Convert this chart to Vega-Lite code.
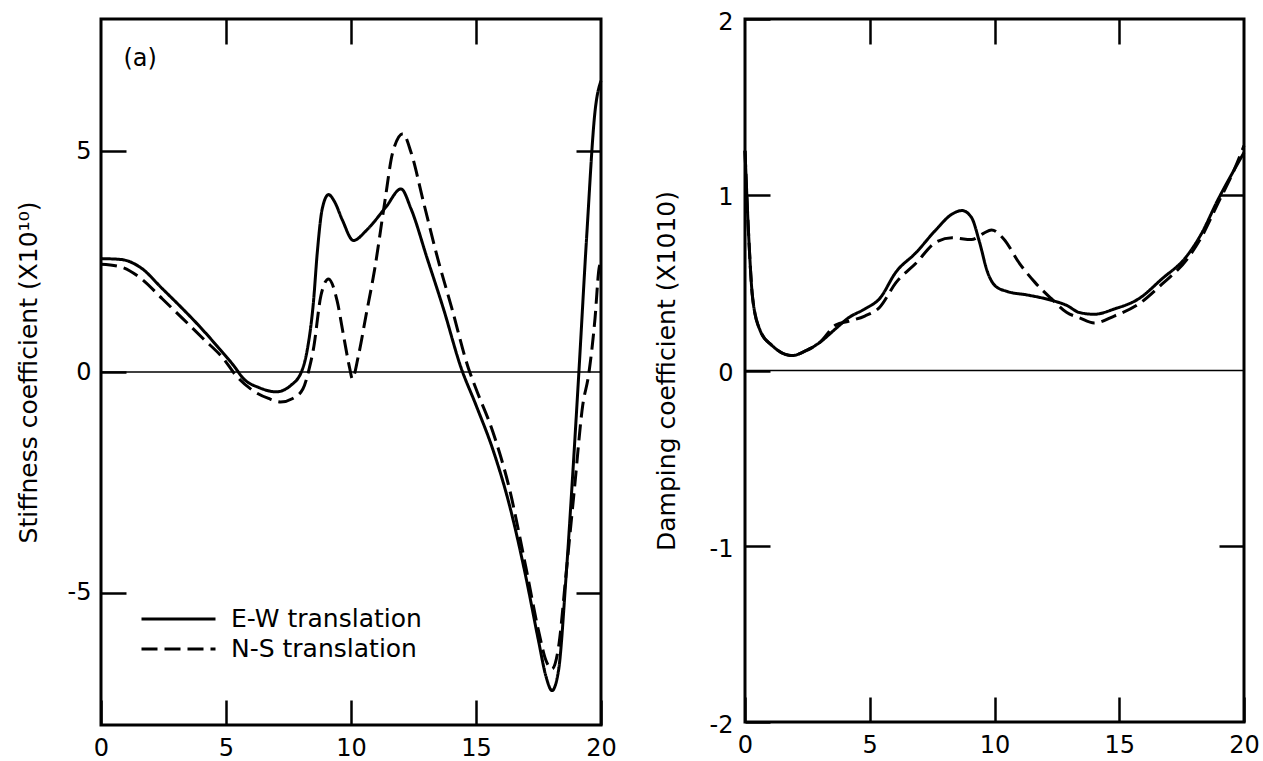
{
  "$schema": "https://vega.github.io/schema/vega-lite/v6.json",
  "padding": {"left": 14, "top": 8, "right": 5, "bottom": 0},
  "background": "white",
  "bounds": "flush",
  "spacing": 144,
  "config": {
    "view": {"stroke": "black", "strokeWidth": 3},
    "font": "DejaVu Sans",
    "axis": {
      "grid": false, "domain": false, "tickColor": "black", "tickWidth": 2.5, "tickSize": -25,
      "labelColor": "black", "labelFont": "DejaVu Sans", "labelFontSize": 24,
      "titleFont": "DejaVu Sans", "titleFontSize": 25, "titleFontWeight": "normal", "titleColor": "black",
      "labelFlush": false
    }
  },
  "resolve": {"scale": {"strokeDash": "independent"}, "legend": {"strokeDash": "independent"}},
  "datasets": {
    "stiff": [
      {"x": 0, "y": 2.57, "s": "E-W translation"},
      {"x": 0.8, "y": 2.55, "s": "E-W translation"},
      {"x": 1.6, "y": 2.36, "s": "E-W translation"},
      {"x": 2.45, "y": 1.89, "s": "E-W translation"},
      {"x": 3.27, "y": 1.43, "s": "E-W translation"},
      {"x": 3.9, "y": 1.06, "s": "E-W translation"},
      {"x": 4.7, "y": 0.55, "s": "E-W translation"},
      {"x": 5.3, "y": 0.15, "s": "E-W translation"},
      {"x": 5.7, "y": -0.15, "s": "E-W translation"},
      {"x": 6.35, "y": -0.36, "s": "E-W translation"},
      {"x": 7.0, "y": -0.45, "s": "E-W translation"},
      {"x": 7.6, "y": -0.3, "s": "E-W translation"},
      {"x": 8.05, "y": 0.05, "s": "E-W translation"},
      {"x": 8.25, "y": 0.5, "s": "E-W translation"},
      {"x": 8.5, "y": 1.6, "s": "E-W translation"},
      {"x": 8.65, "y": 2.7, "s": "E-W translation"},
      {"x": 8.85, "y": 3.7, "s": "E-W translation"},
      {"x": 9.1, "y": 4.02, "s": "E-W translation"},
      {"x": 9.35, "y": 3.85, "s": "E-W translation"},
      {"x": 9.65, "y": 3.45, "s": "E-W translation"},
      {"x": 10.1, "y": 2.98, "s": "E-W translation"},
      {"x": 10.6, "y": 3.2, "s": "E-W translation"},
      {"x": 11.4, "y": 3.74, "s": "E-W translation"},
      {"x": 12.0, "y": 4.15, "s": "E-W translation"},
      {"x": 12.4, "y": 3.7, "s": "E-W translation"},
      {"x": 13.05, "y": 2.57, "s": "E-W translation"},
      {"x": 13.7, "y": 1.43, "s": "E-W translation"},
      {"x": 14.4, "y": 0.1, "s": "E-W translation"},
      {"x": 15.0, "y": -0.75, "s": "E-W translation"},
      {"x": 15.7, "y": -1.8, "s": "E-W translation"},
      {"x": 16.33, "y": -3.0, "s": "E-W translation"},
      {"x": 17.0, "y": -4.66, "s": "E-W translation"},
      {"x": 17.5, "y": -6.09, "s": "E-W translation"},
      {"x": 17.8, "y": -6.9, "s": "E-W translation"},
      {"x": 18.04, "y": -7.22, "s": "E-W translation"},
      {"x": 18.3, "y": -6.77, "s": "E-W translation"},
      {"x": 18.6, "y": -4.66, "s": "E-W translation"},
      {"x": 18.86, "y": -2.4, "s": "E-W translation"},
      {"x": 19.1, "y": -0.15, "s": "E-W translation"},
      {"x": 19.43, "y": 3.1, "s": "E-W translation"},
      {"x": 19.76, "y": 5.9, "s": "E-W translation"},
      {"x": 20, "y": 6.6, "s": "E-W translation"},
      {"x": 0, "y": 2.44, "s": "N-S translation"},
      {"x": 0.8, "y": 2.38, "s": "N-S translation"},
      {"x": 1.6, "y": 2.12, "s": "N-S translation"},
      {"x": 2.45, "y": 1.66, "s": "N-S translation"},
      {"x": 3.27, "y": 1.21, "s": "N-S translation"},
      {"x": 4.08, "y": 0.76, "s": "N-S translation"},
      {"x": 4.9, "y": 0.3, "s": "N-S translation"},
      {"x": 5.4, "y": -0.08, "s": "N-S translation"},
      {"x": 6.05, "y": -0.41, "s": "N-S translation"},
      {"x": 6.7, "y": -0.6, "s": "N-S translation"},
      {"x": 7.18, "y": -0.68, "s": "N-S translation"},
      {"x": 7.67, "y": -0.6, "s": "N-S translation"},
      {"x": 8.08, "y": -0.38, "s": "N-S translation"},
      {"x": 8.33, "y": 0.08, "s": "N-S translation"},
      {"x": 8.5, "y": 0.53, "s": "N-S translation"},
      {"x": 8.8, "y": 1.74, "s": "N-S translation"},
      {"x": 9.1, "y": 2.11, "s": "N-S translation"},
      {"x": 9.45, "y": 1.6, "s": "N-S translation"},
      {"x": 9.7, "y": 0.83, "s": "N-S translation"},
      {"x": 9.95, "y": 0.08, "s": "N-S translation"},
      {"x": 10.05, "y": -0.15, "s": "N-S translation"},
      {"x": 10.3, "y": 0.38, "s": "N-S translation"},
      {"x": 10.6, "y": 1.28, "s": "N-S translation"},
      {"x": 10.95, "y": 2.34, "s": "N-S translation"},
      {"x": 11.35, "y": 3.85, "s": "N-S translation"},
      {"x": 11.67, "y": 4.98, "s": "N-S translation"},
      {"x": 12.08, "y": 5.4, "s": "N-S translation"},
      {"x": 12.4, "y": 4.98, "s": "N-S translation"},
      {"x": 12.9, "y": 3.85, "s": "N-S translation"},
      {"x": 13.47, "y": 2.57, "s": "N-S translation"},
      {"x": 14.04, "y": 1.43, "s": "N-S translation"},
      {"x": 14.7, "y": 0.08, "s": "N-S translation"},
      {"x": 15.0, "y": -0.38, "s": "N-S translation"},
      {"x": 15.67, "y": -1.35, "s": "N-S translation"},
      {"x": 16.33, "y": -2.63, "s": "N-S translation"},
      {"x": 17.0, "y": -4.44, "s": "N-S translation"},
      {"x": 17.5, "y": -5.86, "s": "N-S translation"},
      {"x": 17.8, "y": -6.54, "s": "N-S translation"},
      {"x": 18.04, "y": -6.73, "s": "N-S translation"},
      {"x": 18.3, "y": -6.24, "s": "N-S translation"},
      {"x": 18.6, "y": -4.59, "s": "N-S translation"},
      {"x": 18.94, "y": -2.63, "s": "N-S translation"},
      {"x": 19.27, "y": -0.75, "s": "N-S translation"},
      {"x": 19.5, "y": -0.08, "s": "N-S translation"},
      {"x": 19.76, "y": 1.21, "s": "N-S translation"},
      {"x": 19.92, "y": 2.34, "s": "N-S translation"},
      {"x": 20, "y": 2.5, "s": "N-S translation"}
    ],
    "damp": [
      {"x": 0, "y": 1.25, "s": "E-W translation"},
      {"x": 0.15, "y": 0.76, "s": "E-W translation"},
      {"x": 0.3, "y": 0.42, "s": "E-W translation"},
      {"x": 0.6, "y": 0.23, "s": "E-W translation"},
      {"x": 1.1, "y": 0.14, "s": "E-W translation"},
      {"x": 1.9, "y": 0.085, "s": "E-W translation"},
      {"x": 2.4, "y": 0.11, "s": "E-W translation"},
      {"x": 3.0, "y": 0.16, "s": "E-W translation"},
      {"x": 3.65, "y": 0.24, "s": "E-W translation"},
      {"x": 4.15, "y": 0.3, "s": "E-W translation"},
      {"x": 4.8, "y": 0.35, "s": "E-W translation"},
      {"x": 5.4, "y": 0.41, "s": "E-W translation"},
      {"x": 6.05, "y": 0.56, "s": "E-W translation"},
      {"x": 6.85, "y": 0.67, "s": "E-W translation"},
      {"x": 7.65, "y": 0.8, "s": "E-W translation"},
      {"x": 8.3, "y": 0.89, "s": "E-W translation"},
      {"x": 8.7, "y": 0.91, "s": "E-W translation"},
      {"x": 9.08, "y": 0.87, "s": "E-W translation"},
      {"x": 9.4, "y": 0.73, "s": "E-W translation"},
      {"x": 9.72, "y": 0.56, "s": "E-W translation"},
      {"x": 10.04, "y": 0.48, "s": "E-W translation"},
      {"x": 10.5, "y": 0.45, "s": "E-W translation"},
      {"x": 11.3, "y": 0.43, "s": "E-W translation"},
      {"x": 12.27, "y": 0.4, "s": "E-W translation"},
      {"x": 12.9, "y": 0.37, "s": "E-W translation"},
      {"x": 13.4, "y": 0.33, "s": "E-W translation"},
      {"x": 14.0, "y": 0.32, "s": "E-W translation"},
      {"x": 14.8, "y": 0.35, "s": "E-W translation"},
      {"x": 15.8, "y": 0.41, "s": "E-W translation"},
      {"x": 16.7, "y": 0.52, "s": "E-W translation"},
      {"x": 17.7, "y": 0.65, "s": "E-W translation"},
      {"x": 18.3, "y": 0.78, "s": "E-W translation"},
      {"x": 18.95, "y": 0.97, "s": "E-W translation"},
      {"x": 19.6, "y": 1.14, "s": "E-W translation"},
      {"x": 20, "y": 1.24, "s": "E-W translation"},
      {"x": 0, "y": 1.25, "s": "N-S translation"},
      {"x": 0.15, "y": 0.76, "s": "N-S translation"},
      {"x": 0.3, "y": 0.42, "s": "N-S translation"},
      {"x": 0.6, "y": 0.23, "s": "N-S translation"},
      {"x": 1.1, "y": 0.14, "s": "N-S translation"},
      {"x": 1.9, "y": 0.085, "s": "N-S translation"},
      {"x": 2.4, "y": 0.11, "s": "N-S translation"},
      {"x": 3.0, "y": 0.16, "s": "N-S translation"},
      {"x": 3.65, "y": 0.26, "s": "N-S translation"},
      {"x": 4.15, "y": 0.28, "s": "N-S translation"},
      {"x": 4.8, "y": 0.31, "s": "N-S translation"},
      {"x": 5.4, "y": 0.36, "s": "N-S translation"},
      {"x": 6.05, "y": 0.5, "s": "N-S translation"},
      {"x": 6.85, "y": 0.61, "s": "N-S translation"},
      {"x": 7.65, "y": 0.73, "s": "N-S translation"},
      {"x": 8.3, "y": 0.755, "s": "N-S translation"},
      {"x": 9.08, "y": 0.745, "s": "N-S translation"},
      {"x": 9.56, "y": 0.78, "s": "N-S translation"},
      {"x": 9.88, "y": 0.8, "s": "N-S translation"},
      {"x": 10.36, "y": 0.75, "s": "N-S translation"},
      {"x": 11.0, "y": 0.61, "s": "N-S translation"},
      {"x": 11.63, "y": 0.5, "s": "N-S translation"},
      {"x": 12.27, "y": 0.41, "s": "N-S translation"},
      {"x": 12.9, "y": 0.33, "s": "N-S translation"},
      {"x": 13.4, "y": 0.3, "s": "N-S translation"},
      {"x": 14.0, "y": 0.27, "s": "N-S translation"},
      {"x": 14.8, "y": 0.31, "s": "N-S translation"},
      {"x": 15.8, "y": 0.38, "s": "N-S translation"},
      {"x": 16.7, "y": 0.49, "s": "N-S translation"},
      {"x": 17.7, "y": 0.63, "s": "N-S translation"},
      {"x": 18.3, "y": 0.76, "s": "N-S translation"},
      {"x": 18.95, "y": 0.95, "s": "N-S translation"},
      {"x": 19.6, "y": 1.14, "s": "N-S translation"},
      {"x": 20, "y": 1.28, "s": "N-S translation"}
    ],
    "zero": [{"x1": 0, "x2": 20, "y": 0}],
    "tag": [{"x": 0.9, "y": 7.1, "t": "(a)"}]
  },
  "hconcat": [
    {
      "width": 500,
      "height": 706,
      "resolve": {"axis": {"x": "independent", "y": "independent"}},
      "layer": [
        {
          "data": {"name": "stiff"},
          "mark": {"type": "line", "interpolate": "monotone", "color": "black", "strokeWidth": 3},
          "encoding": {
            "x": {"field": "x", "type": "quantitative", "scale": {"domain": [0, 20], "nice": false, "zero": false},
                  "axis": {"orient": "bottom", "values": [0, 5, 10, 15, 20], "title": null, "labelPadding": 36}},
            "y": {"field": "y", "type": "quantitative", "scale": {"domain": [-8, 8], "nice": false},
                  "axis": {"orient": "left", "values": [-5, 0, 5], "title": "Stiffness coefficient (X10¹⁰)", "titlePadding": 26, "labelPadding": 35,
                           "labelExpr": "replace(datum.label, '−', '-')"}},
            "strokeDash": {"field": "s", "type": "nominal",
                           "scale": {"domain": ["E-W translation", "N-S translation"], "range": [[1, 0], [16, 7]]},
                           "legend": {"orient": "none", "legendX": 39, "legendY": 586, "title": null, "symbolType": "stroke",
                                      "symbolSize": 5476, "symbolStrokeWidth": 3, "symbolStrokeColor": "black",
                                      "labelFontSize": 25, "labelFont": "DejaVu Sans", "labelColor": "black", "labelLimit": 500,
                                      "labelOffset": 14, "clipHeight": 28, "rowPadding": 2, "padding": 0}}
          }
        },
        {
          "data": {"name": "zero"},
          "mark": {"type": "rule", "color": "black", "strokeWidth": 1.5},
          "encoding": {
            "x": {"field": "x1", "type": "quantitative", "axis": {"orient": "top", "values": [5, 10, 15], "labels": false, "title": null}},
            "x2": {"field": "x2"},
            "y": {"field": "y", "type": "quantitative", "axis": {"orient": "right", "values": [-5, 5], "labels": false, "title": null}}
          }
        },
        {
          "data": {"name": "tag"},
          "mark": {"type": "text", "align": "left", "baseline": "middle", "fontSize": 24, "font": "DejaVu Sans", "color": "black"},
          "encoding": {
            "x": {"field": "x", "type": "quantitative", "axis": null},
            "y": {"field": "y", "type": "quantitative", "axis": null},
            "text": {"field": "t"}
          }
        }
      ]
    },
    {
      "width": 499,
      "height": 703,
      "resolve": {"axis": {"x": "independent", "y": "independent"}},
      "layer": [
        {
          "data": {"name": "damp"},
          "mark": {"type": "line", "interpolate": "monotone", "color": "black", "strokeWidth": 3},
          "encoding": {
            "x": {"field": "x", "type": "quantitative", "scale": {"domain": [0, 20], "nice": false, "zero": false},
                  "axis": {"orient": "bottom", "values": [0, 5, 10, 15, 20], "title": null, "labelPadding": 36}},
            "y": {"field": "y", "type": "quantitative", "scale": {"domain": [-2, 2], "nice": false},
                  "axis": {"orient": "left", "values": [-2, -1, 0, 1, 2], "title": "Damping coefficient (X1010)", "titlePadding": 30, "labelPadding": 37,
                           "labelOffset": 3, "labelExpr": "replace(datum.label, '−', '-')"}},
            "strokeDash": {"field": "s", "type": "nominal",
                           "scale": {"domain": ["E-W translation", "N-S translation"], "range": [[1, 0], [16, 7]]},
                           "legend": null}
          }
        },
        {
          "data": {"name": "zero"},
          "mark": {"type": "rule", "color": "black", "strokeWidth": 1.5},
          "encoding": {
            "x": {"field": "x1", "type": "quantitative", "axis": {"orient": "top", "values": [5, 10, 15], "labels": false, "title": null}},
            "x2": {"field": "x2"},
            "y": {"field": "y", "type": "quantitative", "axis": {"orient": "right", "values": [-1, 1], "labels": false, "title": null}}
          }
        }
      ]
    }
  ]
}
